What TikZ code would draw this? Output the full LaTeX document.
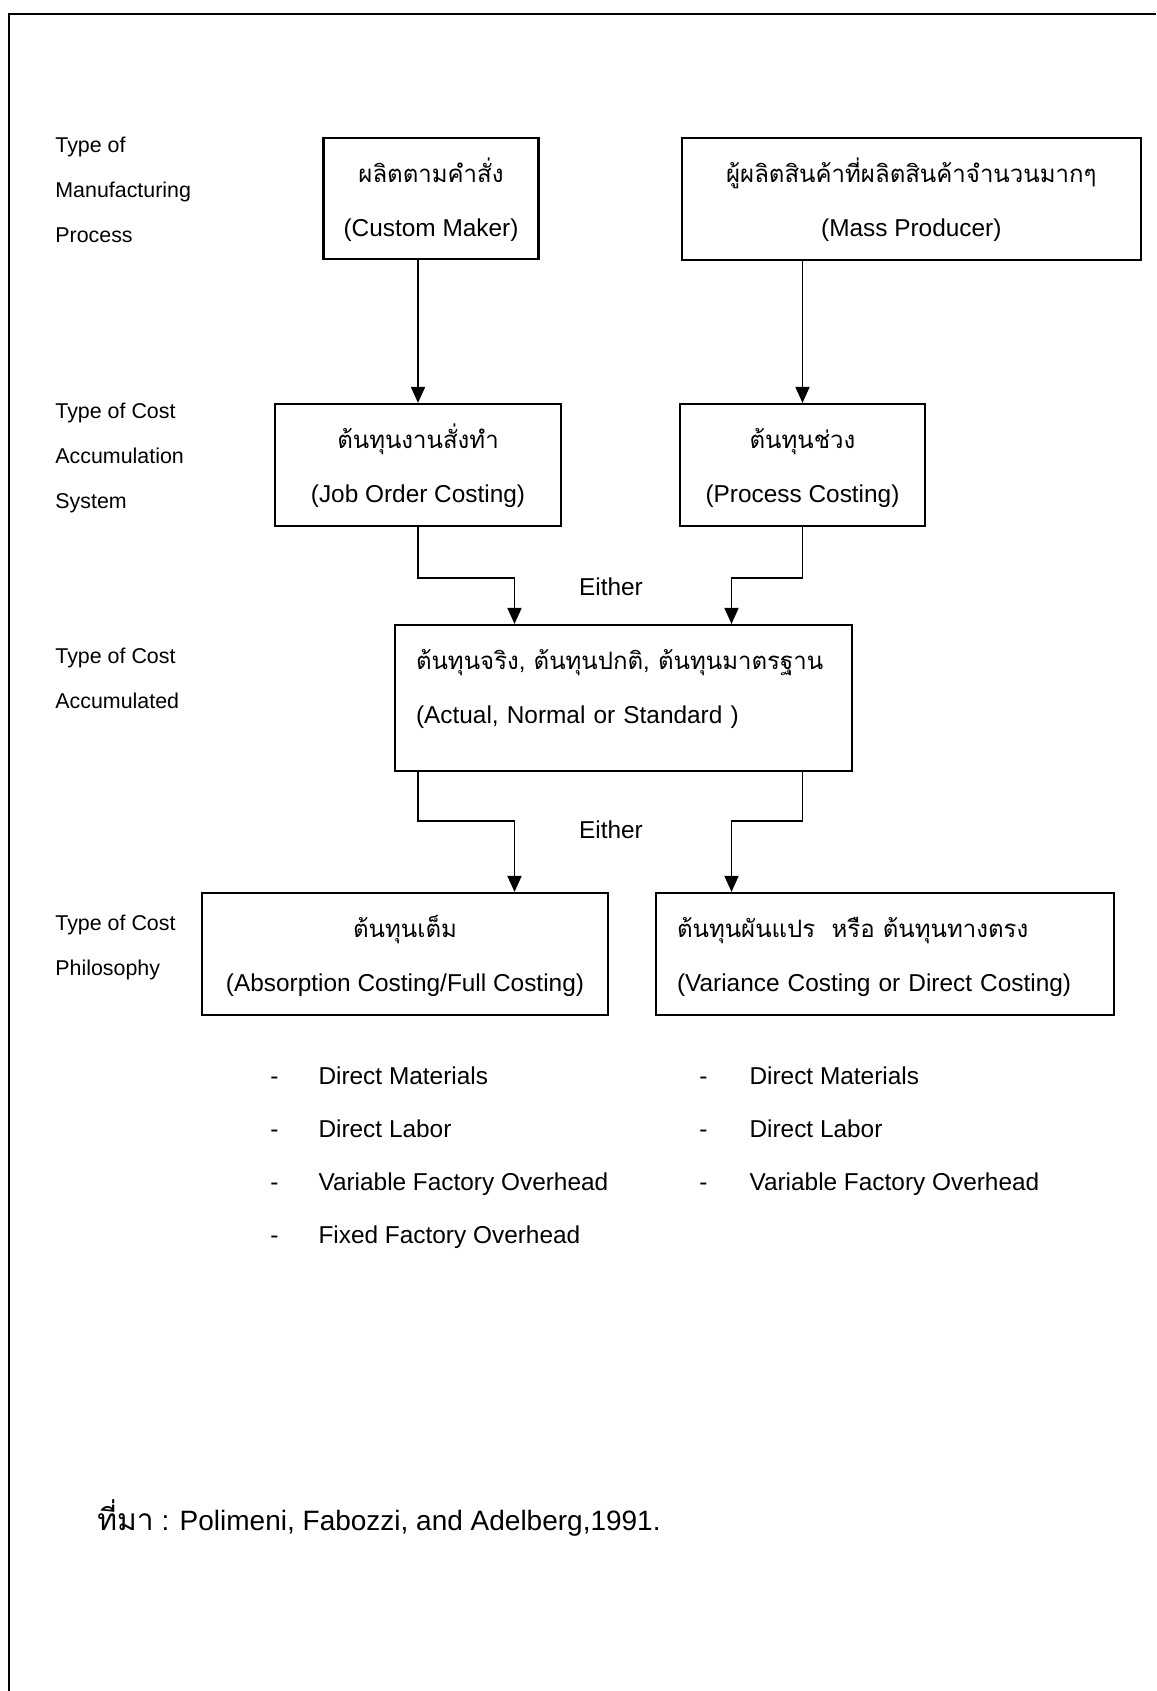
\documentclass[tikz,border=0pt]{standalone}
\usepackage{fontspec}
\setmainfont{Liberation Sans}
\newfontfamily\thaifont[Script=Thai]{Loma}
\usetikzlibrary{arrows.meta,positioning}

% Thai line inside a box
\newcommand{\thline}[1]{\mbox{\thaifont\fontsize{12}{27}\selectfont #1}}

\begin{document}
\begin{tikzpicture}[x=0.5pt, y=-0.5pt,
    box/.style={draw, line width=1.1pt, inner xsep=0pt, inner ysep=0pt, align=center,
        text height=40pt, text depth=3pt, font=\fontsize{12.2}{27}\selectfont},
    leftbox/.style={box, align=left, inner xsep=10.5pt, text height=10pt},
    side/.style={anchor=north west, inner sep=0pt, align=left, font=\fontsize{10.7}{22.3}\selectfont},
    bullets/.style={anchor=north west, inner sep=0pt, font=\fontsize{12.2}{26.5}\selectfont},
    arr/.style={-{Triangle[width=7pt,length=8pt]}, line width=0.9pt}
    ]
    \useasboundingbox (0,0) rectangle (1156,1691);
    \draw[line width=1pt] (1156,14) -- (9,14) -- (9,1691);

    % row labels
    \node[side] (lblprocess) at (55,137) {Type of\\Manufacturing\\Process};
    \node[side] (lblsystem) at (55,403) {Type of Cost\\Accumulation\\System};
    \node[side] (lblaccum) at (55,648) {Type of Cost\\Accumulated};
    \node[side] (lblphilo) at (55,915) {Type of Cost\\Philosophy};

    % boxes
    \node[box, minimum width=107.5pt, minimum height=60.5pt, text depth=2.5pt] (custom) at (431,198.5)
        {\thline{ผลิตตามคำสั่ง}\\(Custom Maker)};
    \node[box, minimum width=229.7pt, minimum height=61pt] (mass) at (911.3,199)
        {\thline{ผู้ผลิตสินค้าที่ผลิตสินค้าจำนวนมากๆ}\\(Mass Producer)};
    \node[box, minimum width=143pt, minimum height=61pt] (joborder) at (418,465)
        {\thline{ต้นทุนงานสั่งทำ}\\(Job Order Costing)};
    \node[box, minimum width=122.5pt, minimum height=61pt] (process) at (802.5,465)
        {\thline{ต้นทุนช่วง}\\(Process Costing)};
    \node[leftbox, text width=207.5pt, minimum height=73pt, text depth=39pt] (actual) at (623.5,698)
        {\thline{ต้นทุนจริง, ต้นทุนปกติ, ต้นทุนมาตรฐาน}\\(Actual, Normal or Standard )};
    \node[box, minimum width=203pt, minimum height=61pt] (absorption) at (405,954)
        {\thline{ต้นทุนเต็ม}\\(Absorption Costing/Full Costing)};
    \node[leftbox, text width=208pt, minimum height=61pt, text depth=27pt] (variance) at (885,954)
        {\thline{ต้นทุนผันแปร\ \ หรือ ต้นทุนทางตรง}\\(Variance Costing or Direct Costing)};

    \node[font=\fontsize{12.2}{14}\selectfont] (eitherA) at (611,587) {Either};
    \node[font=\fontsize{12.2}{14}\selectfont] (eitherB) at (611,830) {Either};

    % connectors
    \coordinate (inL) at ([xshift=-54.5pt]actual.north);
    \coordinate (inR) at ([xshift=54pt]actual.north);
    \draw[arr] (custom.south -| joborder.north) -- (joborder.north);
    \draw[arr] (mass.south -| process.north) -- (process.north);
    \draw[arr] (joborder.south) -- ++(0,51) -| (inL);
    \draw[arr] (process.south) -- ++(0,51) -| (inR);
    \draw[arr] (actual.south -| joborder.south) -- ++(0,49) -| (absorption.north -| inL);
    \draw[arr] (actual.south -| process.south) -- ++(0,49) -| (variance.north -| inR);

    % cost items
    \node[bullets] (itemsfull) at (270,1046.5) {\begin{tabular}{@{}l@{\hspace{20pt}}l@{}}
        - & Direct Materials\\
        - & Direct Labor\\
        - & Variable Factory Overhead\\
        - & Fixed Factory Overhead
    \end{tabular}};
    \node[bullets] (itemsdirect) at (699,1046.5) {\begin{tabular}{@{}l@{\hspace{21pt}}l@{}}
        - & Direct Materials\\
        - & Direct Labor\\
        - & Variable Factory Overhead
    \end{tabular}};

    \node[anchor=base west, inner sep=0pt, font=\fontsize{14}{16}\selectfont] (source) at (97,1530)
        {{\thaifont\fontsize{15}{16}\selectfont ที่มา} : Polimeni, Fabozzi, and Adelberg,1991.};
\end{tikzpicture}
\end{document}
